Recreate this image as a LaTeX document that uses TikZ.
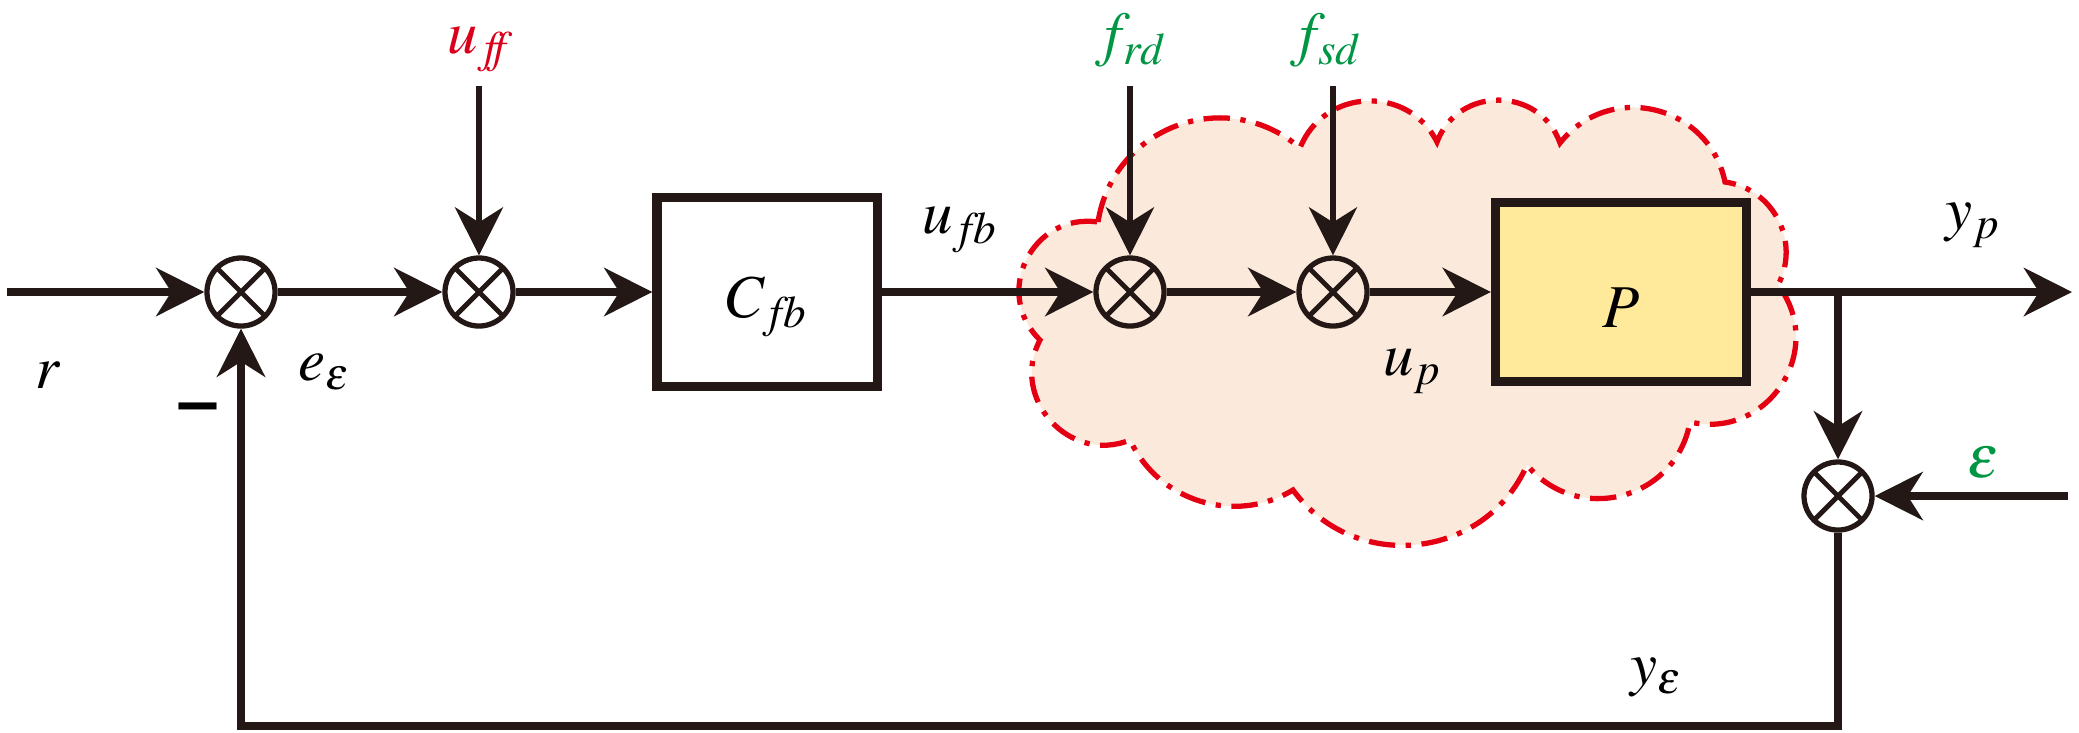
\documentclass[tikz,border=0pt]{standalone}
\usepackage{mathptmx}
\usepackage{fontspec}
\newfontfamily\signfont{DejaVu Sans}
\usepackage{tikz}
\usetikzlibrary{arrows.meta}
\definecolor{inkblack}{RGB}{35,24,21}
\definecolor{ffred}{RGB}{218,0,28}
\definecolor{distgreen}{RGB}{0,150,68}
\definecolor{plantyellow}{RGB}{255,234,155}
\definecolor{cloudfill}{RGB}{251,234,219}
\definecolor{cloudline}{RGB}{228,0,18}
\newcommand{\labelsize}{\fontsize{17.3}{20}\selectfont}
\tikzstyle{blockdiagram}=[x=0.01cm, y=-0.01cm, line join=miter,
                          % labels sit exactly on their anchors
                          every node/.style={inner sep=0, font=\labelsize}]
\tikzstyle{sumnode}=[circle, draw=inkblack, line width=1.5pt, minimum size=0.68cm,
                     path picture={\draw[inkblack, line width=1.4pt]
                       (path picture bounding box.south west) -- (path picture bounding box.north east)
                       (path picture bounding box.north west) -- (path picture bounding box.south east);}]
\tikzstyle{block}=[draw=inkblack, line width=2.6pt, text depth=0pt]
\tikzstyle{signal}=[draw=inkblack, line width=2.2pt, -{Stealth[length=0.48cm, width=0.48cm, inset=0.15cm]}]
\tikzstyle{disturbance}=[signal, line width=1.7pt]
\tikzstyle{cloud}=[fill=cloudfill, draw=cloudline, line width=1.5pt,
                   dash pattern=on 7.5pt off 3pt on 1.5pt off 3pt]

\begin{document}
\begin{tikzpicture}[blockdiagram]
    \useasboundingbox (0,0) rectangle (2079,732);
    % uncertain plant region
    \path[cloud] (1098,222) to[bend left=61, looseness=1.15] (1300,148)
        to[bend left=66, looseness=1.2] (1437,142) to[bend left=70, looseness=1.25] (1560,143)
        to[bend left=65, looseness=1.2] (1725,182) to[bend left=55, looseness=1.08] (1778,285)
        to[bend left=70, looseness=1.27] (1690,422) to[bend left=65, looseness=1.2] (1527,465)
        to[bend left=60, looseness=1.13] (1293,490) to[bend left=48, looseness=1.02] (1130,440)
        to[bend left=70, looseness=1.25] (1040,340) to[bend left=72, looseness=1.3] cycle;

    \node[sumnode] (s1) at (241,292) {};
    \node[sumnode] (s2) at (479,292) {};
    \node[sumnode] (s3) at (1130,292) {};
    \node[sumnode] (s4) at (1333,292) {};
    \node[sumnode] (s5) at (1838,496) {};
    \node[block, minimum width=2.2cm, minimum height=1.89cm, text height=0.5cm] (Cfb) at (767,292) {$C_{f\mkern-2mu b}$};
    \node[block, fill=plantyellow, minimum width=2.51cm, minimum height=1.79cm, text height=0.71cm] (P) at (1621,292) {$P$};

    \coordinate (rin) at (7,292);
    \coordinate (uffin) at (479,86);
    \coordinate (frdin) at (1130,86);
    \coordinate (fsdin) at (1333,86);
    \coordinate (ypout) at (2072,292);
    \coordinate (ypbr) at (1838,292);
    \coordinate (epsin) at (2068,496);
    \coordinate (fbcorner) at (241,726);

    \draw[signal] (rin) -- (s1);
    \draw[signal] (s1) -- (s2);
    \draw[disturbance] (uffin) -- (s2);
    \draw[signal] (s2) -- (Cfb);
    \draw[signal] (Cfb) -- (s3);
    \draw[disturbance] (frdin) -- (s3);
    \draw[signal] (s3) -- (s4);
    \draw[disturbance] (fsdin) -- (s4);
    \draw[signal] (s4) -- (P);
    \draw[signal] (P) -- (ypout);
    \draw[signal] (ypbr) -- (s5);
    \draw[signal] (epsin) -- (s5);
    \draw[signal] (s5) |- (fbcorner) -- (s1);

    \node[anchor=base west] (rlab) at (35,388) {$r$};
    \node[anchor=base west] (elab) at (298,380) {$e_{\varepsilon}$};
    \node[anchor=base] (minus) at (198,425) {\signfont\bfseries −};
    \node[anchor=base west, text=ffred] (ufflab) at (447,53) {$u_{f\mkern-7mu f}$};
    \node[anchor=base west] (ufblab) at (922,233) {$u_{f\mkern-2mu b}$};
    \node[anchor=base west, text=distgreen] (frdlab) at (1095,54) {$f_{rd}$};
    \node[anchor=base west, text=distgreen] (fsdlab) at (1290,54) {$f_{sd}$};
    \node[anchor=base west] (uplab) at (1383,375) {$u_p$};
    \node[anchor=base west] (yplab) at (1945,229) {$y_p$};
    \node[anchor=base west, text=distgreen] (epslab) at (1967,477) {$\varepsilon$};
    \node[anchor=base west] (yelab) at (1630,684) {$y_{\varepsilon}$};
\end{tikzpicture}
\end{document}
